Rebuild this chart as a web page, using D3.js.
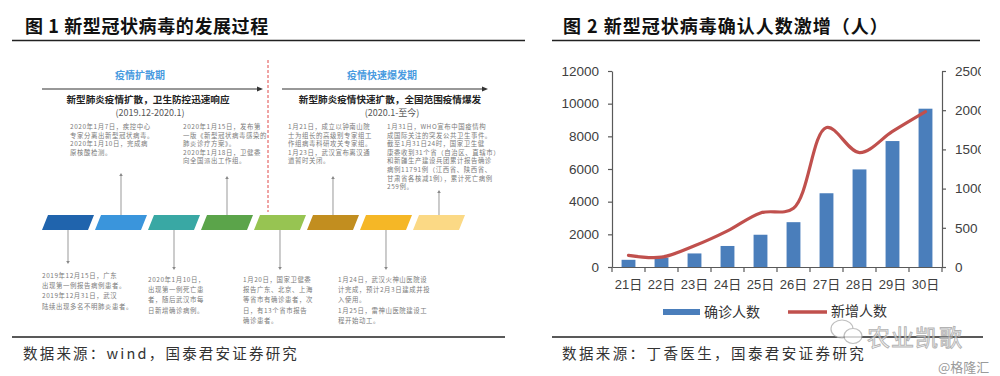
<!DOCTYPE html>
<html><head><meta charset="utf-8">
<script src="https://cdn.jsdelivr.net/npm/d3@7"></script>
<style>
html,body{margin:0;padding:0;background:#fff;}
svg{display:block;}
text{font-family:"Noto Sans CJK SC","Noto Sans",sans-serif;}
</style></head>
<body>
<svg id="c" width="1000" height="376"></svg>
<script>
// ---------- data: right chart ----------
const days = ["21日","22日","23日","24日","25日","26日","27日","28日","29日","30日"];
const confirmed = [440, 571, 830, 1287, 1975, 2744, 4515, 5974, 7711, 9692];
const newCases = [149, 125, 270, 460, 690, 750, 1780, 1459, 1730, 1982];
const leftTicks = [0,2000,4000,6000,8000,10000,12000];
const rightTicks = [0,500,1000,1500,2000,2500];
const seriesNames = ["确诊人数","新增人数"];

// ---------- data: left infographic ----------
const titles = ["图 1 新型冠状病毒的发展过程","图 2 新型冠状病毒确认人数激增（人）"];
const sources = ["数据来源：wind，国泰君安证券研究","数据来源：丁香医生，国泰君安证券研究"];
const phases = ["疫情扩散期","疫情快速爆发期"];
const phaseHeads = ["新型肺炎疫情扩散，卫生防控迅速响应","新型肺炎疫情快速扩散，全国范围疫情爆发"];
const phaseDates = ["(2019.12-2020.1)","(2020.1-至今)"];
const segColors = ["#2064ad","#3a95dc","#39a8a4","#5ba44a","#97c452","#c28e1f","#f5b726","#fbd985"];
const topNotes = [
  ["2020年1月7日，疾控中心","专家分离出新型冠状病毒。","2020年1月10日，完成病","原核酸检测。"],
  ["2020年1月15日，发布第","一版《新型冠状病毒感染的","肺炎诊疗方案》。","2020年1月18日，卫健委","向全国派出工作组。"],
  ["1月21日，成立以钟南山院","士为组长的高级别专家组工","作组病毒科研攻关专家组。","1月23日，武汉宣布离汉通","道暂时关闭。"],
  ["1月31日，WHO宣布中国疫情构","成国际关注的突发公共卫生事件。","截至1月31日24时，国家卫生健","康委收到31个省（自治区、直辖市）","和新疆生产建设兵团累计报告确诊","病例11791例（江西省、陕西省、","甘肃省各核减1例），累计死亡病例","259例。"]
];
const bottomNotes = [
  ["2019年12月15日，广东","出现第一例报告病例患者。","2019年12月31日，武汉","陆续出现多名不明肺炎患者。"],
  ["2020年1月10日，","出现第一例死亡患","者，随后武汉市每","日新增确诊病例。"],
  ["1月20日，国家卫健委","报告广东、北京、上海","等省市有确诊患者，次","日，有13个省市报告","确诊患者。"],
  ["1月24日，武汉火神山医院设","计完成，预计2月3日建成并投","入使用。","1月25日，雷神山医院建设工","程开始动工。"]
];

const svg = d3.select("#c");

// ---------- titles & rules ----------
svg.append("text").attr("x",25).attr("y",33).attr("font-size",18).attr("font-weight",700)
  .attr("letter-spacing",0.6).attr("fill","#111").text(titles[0]);
svg.append("text").attr("x",563).attr("y",33).attr("font-size",18).attr("font-weight",700)
  .attr("letter-spacing",1).attr("fill","#111").text(titles[1]);
const rule = (x1,x2,y,w)=>svg.append("line").attr("x1",x1).attr("x2",x2).attr("y1",y).attr("y2",y)
  .attr("stroke","#222").attr("stroke-width",w);
rule(12,525,40.5,1.5); rule(552,980,40.5,1.5);
rule(12,505,337,1.5); rule(552,983,337,1.5);
svg.append("text").attr("x",23).attr("y",359).attr("font-size",14.5).attr("letter-spacing",2.2)
  .attr("fill","#333").text(sources[0]);
svg.append("text").attr("x",562).attr("y",359).attr("font-size",14.5).attr("letter-spacing",2.4)
  .attr("fill","#333").text(sources[1]);

// ---------- left infographic ----------
const L = svg.append("g");
const seg = d3.scaleBand().domain(d3.range(segColors.length)).range([48,465]).paddingInner(0.132).paddingOuter(0);
const segTop = 215, segBot = 230, skew = 6;
L.selectAll("path.seg").data(segColors).join("path").attr("class","seg")
  .attr("d",(c,i)=>{const x=seg(i), w=seg.bandwidth();
    return `M${x},${segTop}L${x+w},${segTop}L${x+w-skew},${segBot}L${x-skew},${segBot}Z`;})
  .attr("fill",c=>c);
const segCenter = i => seg(i)+seg.bandwidth()/2-skew/2;

// phase headers
const phaseX = [[42,263],[282,488]];
const phaseCenter = [140,382];
phases.forEach((p,k)=>{
  L.append("text").attr("x",phaseCenter[k]).attr("y",79).attr("text-anchor","middle")
    .attr("font-size",10).attr("font-weight",700).attr("fill","#4a9be0").text(p);
  L.append("line").attr("x1",phaseX[k][0]).attr("x2",phaseX[k][1]-3).attr("y1",89).attr("y2",89)
    .attr("stroke","#333").attr("stroke-width",1.2);
  L.append("path").attr("d",`M${phaseX[k][1]},89l-6,-2.5v5z`).attr("fill","#333");
  L.append("text").attr("x",phaseCenter[k]+8).attr("y",103).attr("text-anchor","middle")
    .attr("font-size",9.6).attr("font-weight",700).attr("fill","#222").text(phaseHeads[k]);
  L.append("text").attr("x",phaseCenter[k]+10).attr("y",116).attr("text-anchor","middle")
    .attr("font-size",9).attr("fill","#555").text(phaseDates[k]);
});
// red dashed divider
L.append("line").attr("x1",268).attr("x2",268).attr("y1",60).attr("y2",212)
  .attr("stroke","#e04848").attr("stroke-width",1).attr("stroke-dasharray","3,2");

// notes
const topX = [70,183,288,387], topSeg = [1,3,5,7], topEnd = [175,178,178,192];
topNotes.forEach((lines,k)=>{
  const t = L.append("text").attr("font-size",6.4).attr("fill","#7a7a7a").attr("letter-spacing",0.6);
  lines.forEach((s,j)=>t.append("tspan").attr("x",topX[k]).attr("y",129+j*8.6).text(s));
  const cx = segCenter(topSeg[k]);
  L.append("line").attr("x1",cx).attr("x2",cx).attr("y1",topEnd[k]).attr("y2",segTop)
    .attr("stroke","#999").attr("stroke-width",1);
  L.append("path").attr("d",`M${cx},${topEnd[k]-2}l-1.8,3h3.6z`).attr("fill","#888");
});
const botX = [42,148,243,338], botSeg = [0,2,4,6], botEnd = [262,268,268,268];
bottomNotes.forEach((lines,k)=>{
  const t = L.append("text").attr("font-size",6.4).attr("fill","#7a7a7a").attr("letter-spacing",0.6);
  lines.forEach((s,j)=>t.append("tspan").attr("x",botX[k]).attr("y",(k===0?278:282)+j*10.2).text(s));
  const cx = segCenter(botSeg[k]);
  L.append("line").attr("x1",cx).attr("x2",cx).attr("y1",segBot).attr("y2",botEnd[k])
    .attr("stroke","#999").attr("stroke-width",1);
  L.append("path").attr("d",`M${cx},${botEnd[k]+2}l-1.8,-3h3.6z`).attr("fill","#888");
});

// ---------- right chart ----------
const x0 = 612, x1 = 942, yTop = 71, yBot = 267;
const x = d3.scaleBand().domain(days).range([x0,x1]).paddingInner(0.58).paddingOuter(0.29);
const yL = d3.scaleLinear().domain([0,12000]).range([yBot,yTop]);
const yR = d3.scaleLinear().domain([0,2500]).range([yBot,yTop]);
const R = svg.append("g");

R.selectAll("rect.bar").data(confirmed).join("rect").attr("class","bar")
  .attr("x",(d,i)=>x(days[i])).attr("width",x.bandwidth())
  .attr("y",d=>yL(d)).attr("height",d=>yBot-yL(d)).attr("fill","#4a7ebb");

const axStyle = g=>{g.selectAll("path,line").attr("stroke","#595959").attr("stroke-width",1.2);
  g.selectAll("text").attr("fill","#404040").attr("font-size",13.5)
   .style("font-family","'Liberation Sans',Arial,sans-serif");};

R.append("g").attr("transform",`translate(${x0},0)`)
  .call(d3.axisLeft(yL).tickValues(leftTicks).tickSize(4).tickPadding(9).tickSizeOuter(0).tickFormat(d3.format("d")))
  .call(axStyle);

svg.append("clipPath").attr("id","rclip").append("rect").attr("x",0).attr("y",0).attr("width",981).attr("height",376);
R.append("g").attr("clip-path","url(#rclip)").append("g").attr("transform",`translate(${x1},0)`)
  .call(d3.axisRight(yR).tickValues(rightTicks).tickSize(4).tickPadding(9).tickSizeOuter(0).tickFormat(d3.format("d")))
  .call(axStyle);

const gx = R.append("g").attr("transform",`translate(0,${yBot})`)
  .call(d3.axisBottom(x).tickSize(0).tickPadding(13)).call(axStyle);
gx.selectAll("text").style("font-family","'Liberation Sans','Noto Sans CJK SC',sans-serif").attr("font-size",13);
// category boundary ticks
R.selectAll("line.bt").data(d3.range(days.length+1)).join("line").attr("class","bt")
  .attr("x1",i=>x0+i*x.step()).attr("x2",i=>x0+i*x.step()).attr("y1",yBot).attr("y2",yBot+5)
  .attr("stroke","#595959").attr("stroke-width",1.2);

const line = d3.line().x((d,i)=>x(days[i])+x.bandwidth()/2).y(d=>yR(d)).curve(d3.curveCatmullRom.alpha(0.5));
R.append("path").datum(newCases).attr("d",line).attr("fill","none")
  .attr("stroke","#c0504d").attr("stroke-width",3.2).attr("stroke-linecap","round");

// legend
R.append("rect").attr("x",663).attr("y",309).attr("width",37).attr("height",6).attr("fill","#4a7ebb");
R.append("text").attr("x",704).attr("y",317).attr("font-size",14).attr("fill","#333").text(seriesNames[0]);
R.append("line").attr("x1",788).attr("x2",827).attr("y1",312).attr("y2",312).attr("stroke","#c0504d").attr("stroke-width",3.5);
R.append("text").attr("x",831).attr("y",316).attr("font-size",14).attr("fill","#333").text(seriesNames[1]);

// watermark
const W = svg.append("g").attr("opacity",0.75);
W.append("ellipse").attr("cx",842).attr("cy",329).attr("rx",11).attr("ry",9).attr("fill","#fff").attr("stroke","#aaa").attr("stroke-width",1.2);
W.append("ellipse").attr("cx",853).attr("cy",336).attr("rx",9).attr("ry",7.5).attr("fill","#fff").attr("stroke","#aaa").attr("stroke-width",1.2);
W.append("text").attr("x",867).attr("y",346).attr("font-size",23).attr("fill","#f4f4f4")
  .attr("stroke","#9a9a9a").attr("stroke-width",0.9).attr("letter-spacing",1).text("农业凯歌");
svg.append("text").attr("x",938).attr("y",372).attr("font-size",13).attr("fill","#9a9a9a").text("@格隆汇");
</script>
</body></html>
